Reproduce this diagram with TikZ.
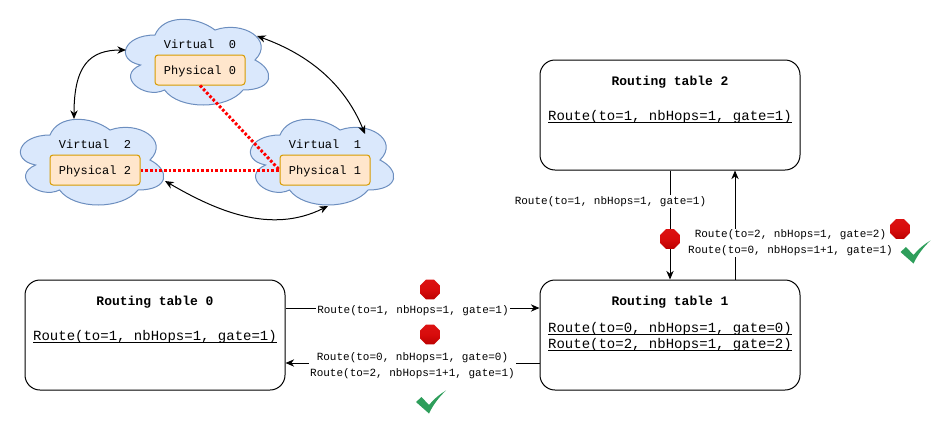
\documentclass[tikz,border=0pt]{standalone}
\usepackage{fontspec}
\setmonofont{Liberation Mono}
\usetikzlibrary{shapes.geometric,arrows.meta}
\definecolor{cloudfill}{HTML}{DAE8FC}
\definecolor{cloudline}{HTML}{6C8EBF}
\definecolor{physfill}{HTML}{FFE6CC}
\definecolor{physline}{HTML}{D79B00}
\definecolor{checkgreen}{HTML}{2E9E5B}
\definecolor{stoptop}{HTML}{E01818}
\definecolor{stopmid}{HTML}{D80C0C}
\definecolor{stoplow}{HTML}{BC0000}
\definecolor{stopbot}{HTML}{C83838}
\pgfdeclareverticalshading{stopshade}{100bp}{
 color(0bp)=(stopbot); color(25bp)=(stoplow); color(50bp)=(stopmid); color(100bp)=(stoptop)}
\newcommand{\cloudshape}[4]{%
 \filldraw[cloudfill,draw=cloudline,line width=0.75pt]
 ({#1+.25*#3},{#2+.25*#4})
 .. controls ({#1+.05*#3},{#2+.25*#4}) and ({#1},{#2+.5*#4}) .. ({#1+.16*#3},{#2+.55*#4})
 .. controls ({#1},{#2+.66*#4}) and ({#1+.18*#3},{#2+.9*#4}) .. ({#1+.31*#3},{#2+.8*#4})
 .. controls ({#1+.4*#3},{#2+#4}) and ({#1+.7*#3},{#2+#4}) .. ({#1+.8*#3},{#2+.8*#4})
 .. controls ({#1+#3},{#2+.8*#4}) and ({#1+#3},{#2+.6*#4}) .. ({#1+.875*#3},{#2+.5*#4})
 .. controls ({#1+#3},{#2+.3*#4}) and ({#1+.8*#3},{#2+.1*#4}) .. ({#1+.625*#3},{#2+.2*#4})
 .. controls ({#1+.5*#3},{#2+.05*#4}) and ({#1+.3*#3},{#2+.05*#4}) .. ({#1+.25*#3},{#2+.25*#4}) -- cycle;}
\newcommand{\ul}[1]{\underline{\smash{#1}}}
\tikzset{
 every node/.style={font=\ttfamily},
 phys/.style={draw=physline,fill=physfill,rounded corners=2.25pt,minimum width=67.5pt,minimum height=22.5pt,inner sep=0pt,line width=0.75pt},
 ptxt/.style={inner sep=0pt,font=\fontsize{9pt}{11pt}\ttfamily},
 tablebox/.style={draw=black,fill=white,rounded corners=11.25pt,minimum width=195pt,minimum height=82.5pt,line width=0.75pt,inner sep=0pt},
 ttl/.style={inner sep=0pt,anchor=base,font=\fontsize{9.75pt}{12pt}\ttfamily\bfseries},
 rt/.style={inner sep=0pt,anchor=base,font=\fontsize{10.5pt}{12pt}\ttfamily},
 lbl/.style={fill=white,inner sep=1pt,font=\fontsize{8.25pt}{12pt}\ttfamily,align=center},
 arr/.style={-{Stealth[length=6.5pt,width=5.5pt]},line width=0.75pt},
 dbl/.style={{Stealth[length=6.5pt,width=5.5pt]}-{Stealth[length=6.5pt,width=5.5pt]},line width=0.75pt},
 reddot/.style={red,line width=2.25pt,dash pattern=on 2pt off 1.5pt},
 stopsign/.style={regular polygon,regular polygon sides=8,minimum size=16pt,inner sep=0pt,shading=stopshade},
}
\newcommand{\checkmk}[2]{\fill[checkgreen] (#1-15,#2) -- (#1-9.5,#2-5) -- (#1-2,#2+3) .. controls (#1+4,#2-4) and (#1+9,#2-8) .. (#1+15,#2-11.5) .. controls (#1+8,#2-5) and (#1+2,#2+3) .. (#1-2,#2+11.5) -- cycle;}
\begin{document}
\begin{tikzpicture}[x=0.75pt,y=-0.75pt]
\useasboundingbox (0,0) rectangle (941,425);
\cloudshape{115}{10}{160}{100}
\cloudshape{240}{110}{160}{100}
\cloudshape{10}{110}{160}{100}
\node[ptxt] (v0) at (200,44) {Virtual\ \ 0};
\node[ptxt] (v1) at (325,144) {Virtual\ \ 1};
\node[ptxt] (v2) at (95,144) {Virtual\ \ 2};
\node[phys] (p0) at (200,70) {};
\node[phys] (p1) at (325,170) {};
\node[phys] (p2) at (95,170) {};
\node[ptxt] (p0t) at (200,71) {Physical 0};
\node[ptxt] (p1t) at (325,171) {Physical 1};
\node[ptxt] (p2t) at (95,171) {Physical 2};
\coordinate (c0l) at (126,50);
\coordinate (c0r) at (257,36);
\coordinate (c1t) at (365,134);
\coordinate (c1b) at (328,206);
\coordinate (c2t) at (74,119);
\coordinate (c2r) at (165,181);
\draw[reddot] (p0.south) -- (p1.west);
\draw[reddot] (p2.east) -- (p1.west);
\draw[dbl] (c0l) .. controls (90,50) and (74,65) .. (c2t);
\draw[dbl] (c0r) .. controls (310,55) and (345,85) .. (c1t);
\draw[dbl] (c2r) .. controls (215,210) and (270,235) .. (c1b);
\node[tablebox] (t2) at (670,115) {};
\node[tablebox] (t0) at (155,335) {};
\node[tablebox] (t1) at (670,335) {};
\node[ttl] (t2h) at (670,85.5) {Routing table 2};
\node[ttl] (t0h) at (155,305.5) {Routing table 0};
\node[ttl] (t1h) at (670,305.5) {Routing table 1};
\node[rt] (t2r) at (670,120) {\ul{Route(to=1, nbHops=1, gate=1)}};
\node[rt] (t0r) at (155,340) {\ul{Route(to=1, nbHops=1, gate=1)}};
\node[rt] (t1a) at (670,332) {\ul{Route(to=0, nbHops=1, gate=0)}};
\node[rt] (t1b) at (670,348) {\ul{Route(to=2, nbHops=1, gate=2)}};
\coordinate (a0) at (t0.east |- 0,308);
\coordinate (a1) at (t1.west |- 0,308);
\coordinate (b1) at (t1.west |- 0,363);
\coordinate (b0) at (t0.east |- 0,363);
\coordinate (c2) at (670,0);
\coordinate (d2) at (735,0);
\draw[arr] (a0) -- (a1);
\draw[arr] (b1) -- (b0);
\draw[arr] (c2 |- t2.south) -- (c2 |- t1.north);
\draw[arr] (d2 |- t1.north) -- (d2 |- t2.south);
\node[lbl] (la) at (413,311) {Route(to=1, nbHops=1, gate=1)};
\node[lbl] (lb) at (412.5,365.5) {Route(to=0, nbHops=1, gate=0)\\Route(to=2, nbHops=1+1, gate=1)};
\node[lbl] (lc) at (610.5,201.5) {Route(to=1, nbHops=1, gate=1)};
\node[lbl] (ld) at (790.5,243) {Route(to=2, nbHops=1, gate=2)\\Route(to=0, nbHops=1+1, gate=1)};
\node[stopsign] (s1) at (430,289.5) {};
\node[stopsign] (s2) at (430,334.5) {};
\node[stopsign] (s3) at (670,239) {};
\node[stopsign] (s4) at (900,229) {};
\checkmk{431}{402}
\checkmk{915.5}{252}
\end{tikzpicture}
\end{document}
